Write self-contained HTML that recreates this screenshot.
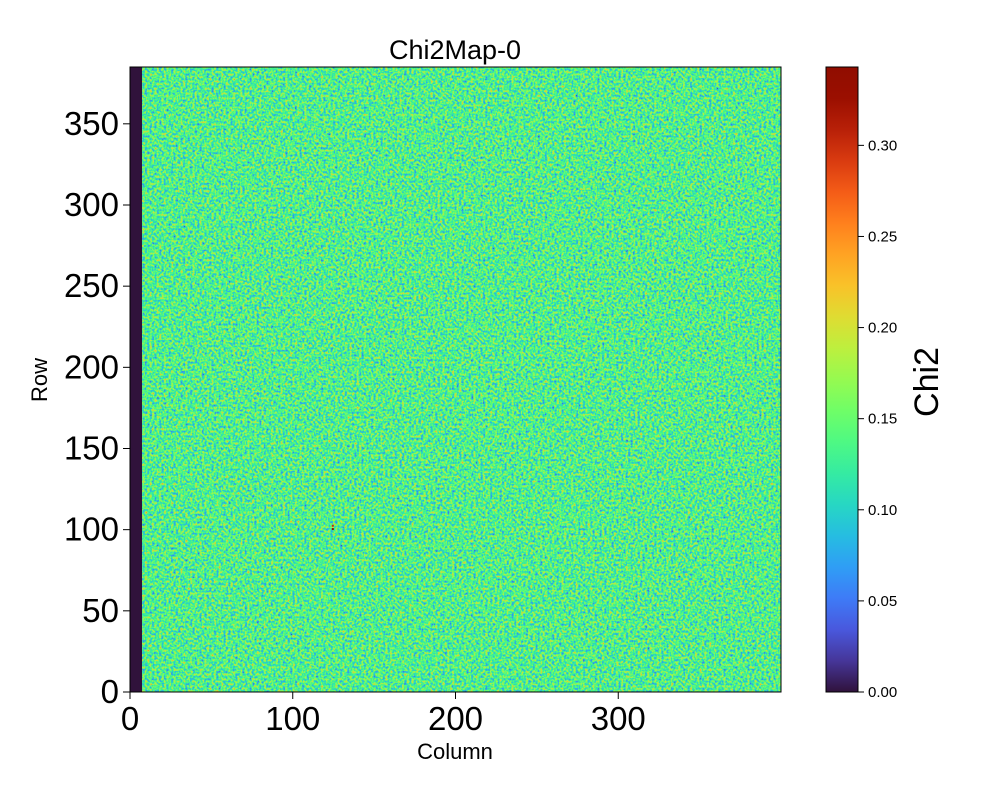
<!DOCTYPE html>
<html><head><meta charset="utf-8"><style>
body{margin:0;background:#fff}
svg text{font-family:"Liberation Sans",sans-serif;fill:#000}
</style></head><body>
<svg id="chart" width="1000" height="800" viewBox="0 0 1000 800" xmlns="http://www.w3.org/2000/svg">
<defs>
<filter id="noise" x="0" y="0" width="100%" height="100%" color-interpolation-filters="sRGB">
<feTurbulence type="fractalNoise" baseFrequency="0.42" numOctaves="2" seed="3" result="t"/>
<feColorMatrix in="t" type="matrix" values="1 0 0 0 0  1 0 0 0 0  1 0 0 0 0  0 0 0 0 1" result="g"/>
<feComponentTransfer in="g">
<feFuncR id="fR" type="table" tableValues="0 1"/>
<feFuncG id="fG" type="table" tableValues="0 1"/>
<feFuncB id="fB" type="table" tableValues="0 1"/>
</feComponentTransfer>
</filter>
<linearGradient id="turbo" x1="0" y1="1" x2="0" y2="0"></linearGradient>
<clipPath id="plotclip"><rect x="130" y="67" width="651" height="625"/></clipPath>
</defs>
<text x="455" y="59" font-size="27" text-anchor="middle">Chi2Map-0</text>
<g id="heat" clip-path="url(#plotclip)"></g>
<rect x="142" y="67" width="639" height="625" filter="url(#noise)" opacity="0.85"/>
<g id="hot"></g>
<rect x="130" y="67" width="651" height="625" fill="none" stroke="#000" stroke-width="1"/>
<g id="axes"></g>
<text x="455" y="759" font-size="22" text-anchor="middle">Column</text>
<text transform="translate(47,380) rotate(-90)" font-size="22" text-anchor="middle">Row</text>
<rect id="cbar" x="826" y="67" width="32" height="625" fill="url(#turbo)" stroke="#000" stroke-width="1"/>
<text transform="translate(938,382) rotate(-90)" font-size="34" text-anchor="middle">Chi2</text>
</svg>
<script>
const xTicks=[0,100,200,300];
const yTicks=[0,50,100,150,200,250,300,350];
const cbTicks=[0.00,0.05,0.10,0.15,0.20,0.25,0.30];
const vmax=0.343;
const nCols=400, nRows=385;
// coarse block means (rows bottom->top, 10 blocks each) of Chi2
const blockVals=[
[0.128,0.131,0.127,0.133,0.130,0.129,0.132,0.128,0.130,0.127],
[0.131,0.129,0.134,0.128,0.131,0.133,0.129,0.131,0.128,0.132],
[0.127,0.132,0.130,0.131,0.127,0.130,0.133,0.129,0.131,0.130],
[0.130,0.128,0.131,0.129,0.133,0.128,0.130,0.132,0.127,0.131],
[0.132,0.130,0.128,0.132,0.130,0.131,0.128,0.130,0.133,0.129],
[0.129,0.133,0.131,0.128,0.129,0.132,0.131,0.127,0.130,0.132],
[0.131,0.127,0.130,0.133,0.131,0.128,0.130,0.132,0.129,0.128],
[0.128,0.131,0.129,0.130,0.132,0.130,0.127,0.131,0.132,0.130],
[0.130,0.129,0.133,0.128,0.130,0.131,0.132,0.129,0.128,0.131],
[0.132,0.130,0.128,0.131,0.129,0.130,0.131,0.130,0.131,0.129]];
const deadCols=[0,7.5];
const hotPixels=[[124,100,0.34],[124,102,0.30],[240,302,0.05],[175,95,0.06]];
const NS="http://www.w3.org/2000/svg";
const X=v=>130+v*651/nCols, Y=v=>692-v*625/nRows, CB=v=>692-v*625/vmax;
function turboArr(t){t=Math.max(0,Math.min(1,t));
const r=0.13572138+t*(4.61539260+t*(-42.66032258+t*(132.13108234+t*(-152.94239396+t*59.28637943))));
const g=0.09140261+t*(2.19418839+t*(4.84296658+t*(-14.18503333+t*(4.27729857+t*2.82956604))));
const b=0.10667330+t*(12.64194608+t*(-60.58204836+t*(110.36276771+t*(-89.90310912+t*27.34824973))));
const c=x=>Math.max(0,Math.min(1,x));return [c(r),c(g),c(b)];}
function turbo(t){if(t<=0.01)return 'rgb(48,18,59)';const a=turboArr(t).map(x=>Math.round(255*x));return `rgb(${a[0]},${a[1]},${a[2]})`;}
function mk(tag,attrs,parent){const e=document.createElementNS(NS,tag);for(const k in attrs)e.setAttribute(k,attrs[k]);parent.appendChild(e);return e;}
const tv=[[],[],[]];
for(let i=0;i<=16;i++){const chi=Math.max(0,0.135+(i/16-0.5)*0.30);const a=turboArr(chi/vmax);for(let k=0;k<3;k++)tv[k].push(a[k].toFixed(3));}
document.getElementById('fR').setAttribute('tableValues',tv[0].join(' '));
document.getElementById('fG').setAttribute('tableValues',tv[1].join(' '));
document.getElementById('fB').setAttribute('tableValues',tv[2].join(' '));
const heat=document.getElementById('heat');
const bw=(nCols-deadCols[1])/10, bh=nRows/10;
blockVals.forEach((row,ri)=>row.forEach((v,ci)=>{
 const x0=deadCols[1]+ci*bw;
 const r=mk('rect',{x:X(x0),y:Y((ri+1)*bh),width:X(x0+bw)-X(x0)+0.5,height:Y(ri*bh)-Y((ri+1)*bh)+0.5,fill:turbo(v/vmax)},heat);
 
 
}));
const dead=mk('rect',{x:X(deadCols[0]),y:Y(nRows),width:X(deadCols[1])-X(deadCols[0]),height:Y(0)-Y(nRows),fill:turbo(0)},heat);


const hot=document.getElementById('hot');
hotPixels.forEach(p=>{const r=mk('rect',{x:X(p[0]),y:Y(p[1]+1),width:2,height:2,fill:turbo(p[2]/vmax)},hot);
 
 });
const grad=document.getElementById('turbo');
for(let i=0;i<=20;i++){mk('stop',{offset:(i/20),'stop-color':turbo(i/20)},grad);}
const axes=document.getElementById('axes');
xTicks.forEach(v=>{mk('line',{x1:X(v),x2:X(v),y1:692,y2:699,stroke:'#000'},axes);
 const t=mk('text',{x:X(v),y:730,'font-size':33,'text-anchor':'middle'},axes);t.textContent=v;
 
 });
yTicks.forEach(v=>{mk('line',{x1:123,x2:130,y1:Y(v),y2:Y(v),stroke:'#000'},axes);
 const t=mk('text',{x:119,y:Y(v)+11,'font-size':33,'text-anchor':'end'},axes);t.textContent=v;
 
 });
cbTicks.forEach(v=>{mk('line',{x1:858,x2:864,y1:CB(v),y2:CB(v),stroke:'#000'},axes);
 const t=mk('text',{x:868,y:CB(v)+5,'font-size':15},axes);t.textContent=v.toFixed(2);
 
 });
</script>
</body></html>
